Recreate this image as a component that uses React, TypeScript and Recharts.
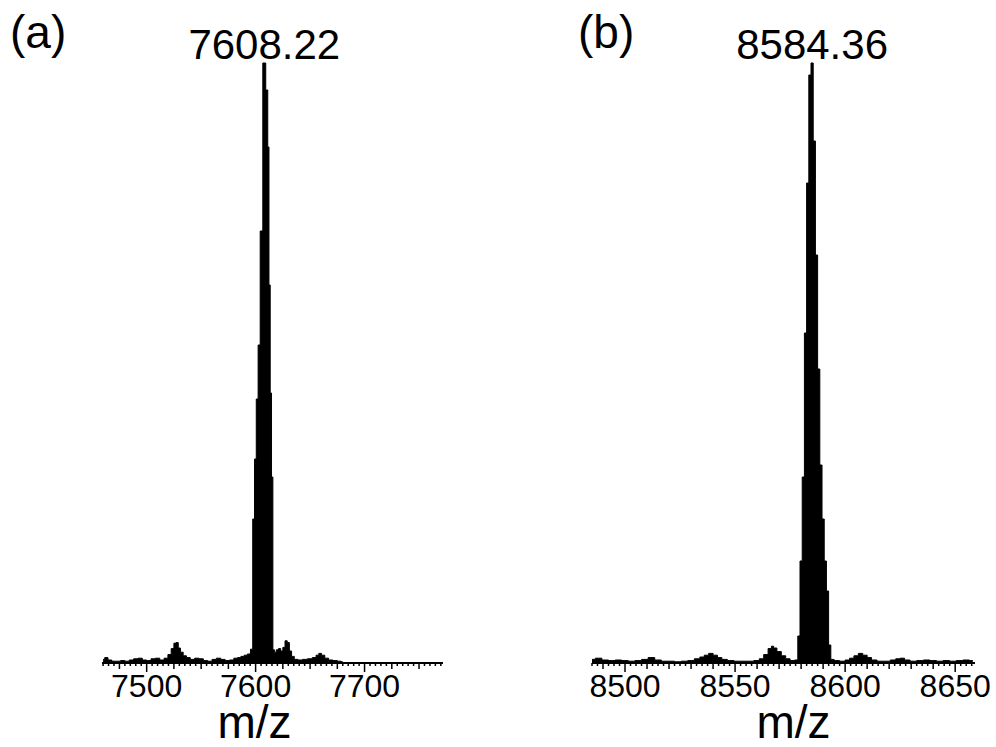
import { ComposedChart, Area, XAxis, YAxis, ReferenceDot, Label } from 'recharts';

const FONT = '"Liberation Sans", Arial, Helvetica, sans-serif';

// panel (a): m/z and relative intensity (%)
const mzA = [
  7460, 7463, 7466, 7470, 7474, 7478, 7482, 7486, 7490, 7494, 7498, 7502, 7506, 7510, 7514, 7518,
  7521, 7524, 7526, 7528, 7530, 7532, 7535, 7538, 7542, 7546, 7550, 7554, 7558, 7562, 7566, 7570,
  7574, 7578, 7582, 7585, 7588, 7591, 7594, 7596.5, 7598.2, 7599.8, 7601.4, 7603.2, 7605.2, 7608,
  7610.6, 7611.7, 7612.8, 7614, 7615.2, 7616.5, 7618, 7620, 7622, 7624, 7626, 7628, 7630, 7632,
  7634, 7637, 7641, 7645, 7650, 7654, 7657, 7659, 7662, 7665, 7669, 7673, 7677, 7680,
];
const intA = [
  0.6, 0.9, 0.5, 0.3, 0.3, 0.4, 0.3, 0.5, 0.7, 0.8, 0.5, 0.4, 0.7, 0.8, 0.5, 0.8,
  1.4, 2.4, 3.3, 3.4, 2.5, 1.8, 1.2, 0.9, 0.6, 0.8, 0.7, 0.4, 0.3, 0.6, 0.8, 0.6,
  0.4, 0.5, 0.8, 0.9, 1.1, 1.3, 1.5, 2.3, 24, 34, 44, 53, 72, 100,
  95.5, 86, 63, 45, 31, 2.2, 1.8, 2.2, 2.4, 2.0, 2.6, 3.7, 3.4, 2.0,
  1.1, 0.6, 0.5, 0.6, 0.7, 0.9, 1.3, 1.6, 1.3, 0.8, 0.5, 0.4, 0.3, 0.2,
];
const labelTicksA = [7500, 7600, 7700];
const domainA: [number, number] = [7459, 7772];

// panel (b)
const mzB = [
  8485, 8488, 8491, 8494, 8497, 8500, 8503, 8506, 8509, 8512, 8515, 8518, 8521, 8524, 8527, 8530,
  8533, 8535, 8537, 8539, 8541, 8543, 8545, 8548, 8551, 8554, 8557, 8560, 8562, 8564, 8566, 8567,
  8568, 8570, 8572, 8574, 8576, 8578, 8579, 8580, 8581, 8582, 8583, 8584, 8585, 8586, 8587, 8588,
  8589, 8590, 8591, 8592, 8593, 8594, 8596, 8599, 8601, 8603, 8605, 8607, 8609, 8611, 8613, 8616,
  8619, 8622, 8624, 8626, 8628, 8631, 8634, 8637, 8640, 8643, 8646, 8649, 8652, 8655, 8658,
];
const intB = [
  0.6, 0.8, 0.5, 0.4, 0.5, 0.4, 0.3, 0.4, 0.6, 0.9, 0.5, 0.3, 0.3, 0.2, 0.3, 0.4,
  0.7, 1.0, 1.3, 1.6, 1.3, 0.9, 0.6, 0.4, 0.3, 0.3, 0.3, 0.4, 0.7, 1.4, 2.4, 2.8,
  2.5, 1.9, 1.2, 0.7, 0.4, 0.5, 4.5, 17, 31, 55, 80, 98, 100, 87, 68, 49,
  33, 24, 17, 12, 3, 0.6, 0.4, 0.3, 0.5, 0.8, 1.2, 1.6, 1.3, 0.9, 0.5, 0.3,
  0.3, 0.5, 0.7, 0.8, 0.5, 0.3, 0.4, 0.5, 0.4, 0.3, 0.4, 0.3, 0.4, 0.5, 0.4,
];
const labelTicksB = [8500, 8550, 8600, 8650];
const domainB: [number, number] = [8485, 8659];

const dataA = mzA.map((mz, i) => ({ mz, intensity: intA[i] }));
const dataB = mzB.map((mz, i) => ({ mz, intensity: intB[i] }));

const minorTicks = (from: number, to: number, step: number) => {
  const out: number[] = [];
  for (let v = from; v <= to + 1e-9; v += step) out.push(Math.round(v * 100) / 100);
  return out;
};

const makeTick = (labels: number[], midStep: number) => (props: any) => {
  const { x, y, payload } = props;
  const v = payload.value;
  const isLabel = labels.includes(v);
  const isMid = Math.abs(v / midStep - Math.round(v / midStep)) < 1e-6;
  const len = isLabel ? 9 : isMid ? 6 : 3;
  return (
    <g>
      <line x1={x} x2={x} y1={y} y2={y + len} stroke="#000" strokeWidth={1.5} />
      {isLabel && (
        <text x={x} y={y + 34} textAnchor="middle" fontSize={32} fontFamily={FONT} fill="#000">
          {v}
        </text>
      )}
    </g>
  );
};

const mzLabel = (dx: number) => (p: any) => {
  const vb = p.viewBox;
  return (
    <text x={vb.x + vb.width / 2 + dx} y={vb.y + vb.height - 9} textAnchor="middle" fontSize={46} fontFamily={FONT} fill="#000">
      m/z
    </text>
  );
};

interface PanelProps {
  data: { mz: number; intensity: number }[];
  domain: [number, number];
  ticks: number[];
  labels: number[];
  midStep: number;
  peak: number;
  peakText: string;
  width: number;
  marginLeft: number;
  marginRight: number;
  labelDx: number;
}

function Spectrum(p: PanelProps) {
  return (
    <ComposedChart width={p.width} height={747} data={p.data} margin={{ top: 63, right: p.marginRight, bottom: 0, left: p.marginLeft }}>
      <XAxis
        dataKey="mz"
        type="number"
        domain={p.domain}
        allowDataOverflow
        ticks={p.ticks}
        interval={0}
        tickSize={0}
        tickMargin={0}
        tickLine={false}
        tick={makeTick(p.labels, p.midStep)}
        axisLine={{ stroke: '#000', strokeWidth: 2 }}
        height={84}
      >
        <Label content={mzLabel(p.labelDx)} />
      </XAxis>
      <YAxis hide domain={[0, 100]} />
      <Area
        type="step"
        dataKey="intensity"
        stroke="#000"
        strokeWidth={1}
        fill="#000"
        fillOpacity={1}
        isAnimationActive={false}
      />
      <ReferenceDot
        x={p.peak}
        y={100}
        r={0}
        fill="none"
        stroke="none"
        ifOverflow="visible"
        label={{ value: p.peakText, position: 'top', offset: 4, fontSize: 42, fill: '#000', fontFamily: FONT }}
      />
    </ComposedChart>
  );
}

export default function App() {
  const panelLetter = { position: 'absolute' as const, top: 9, fontSize: 46, lineHeight: '46px', fontFamily: FONT, color: '#000' };
  return (
    <div style={{ position: 'absolute', left: 0, top: 0, width: 996, height: 747, background: '#fff', fontFamily: FONT }}>
      <div style={{ position: 'absolute', left: 0, top: 0 }}>
        <Spectrum
          data={dataA}
          domain={domainA}
          ticks={minorTicks(7460, 7770, 5)}
          labels={labelTicksA}
          midStep={25}
          peak={7608}
          peakText="7608.22"
          width={480}
          marginLeft={102}
          marginRight={37}
          labelDx={-18}
        />
      </div>
      <div style={{ position: 'absolute', left: 480, top: 0 }}>
        <Spectrum
          data={dataB}
          domain={domainB}
          ticks={minorTicks(8485, 8657.5, 2.5)}
          labels={labelTicksB}
          midStep={10}
          peak={8585}
          peakText="8584.36"
          width={516}
          marginLeft={112}
          marginRight={21}
          labelDx={10}
        />
      </div>
      <div style={{ ...panelLetter, left: 10 }}>(a)</div>
      <div style={{ ...panelLetter, left: 578 }}>(b)</div>
    </div>
  );
}
